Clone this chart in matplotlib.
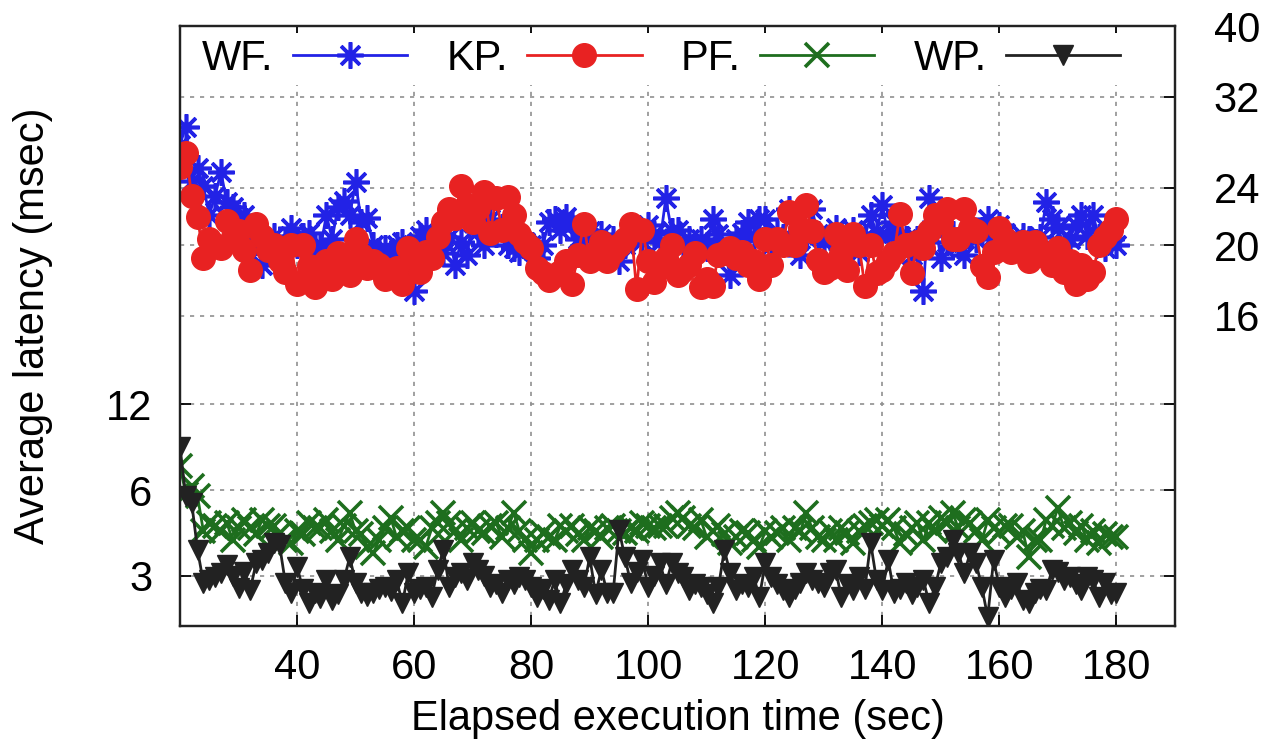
import numpy as np
import matplotlib.pyplot as plt
from matplotlib.ticker import FixedLocator, FixedFormatter, NullLocator

plt.rcParams['font.family'] = ['Liberation Sans', 'DejaVu Sans']

# elapsed time, one sample per second
t = np.arange(20, 181)

# right axis (msec)
wf = [27.5, 29.1, 24.5, 25.5, 24.1, 22.0, 23.4, 25.2, 22.9, 22.6,
      21.8, 22.0, 21.0, 20.2, 18.8, 19.5, 20.6, 19.8, 20.2, 21.1,
      20.0, 20.6, 20.8, 19.8, 19.8, 22.0, 20.4, 22.6, 23.0, 22.0,
      24.4, 21.5, 21.8, 20.0, 19.5, 19.8, 19.2, 20.0, 20.2, 19.0,
      17.3, 20.6, 21.0, 20.5, 20.4, 19.5, 20.5, 18.8, 20.2, 19.4,
      21.5, 20.9, 20.0, 21.7, 20.7, 21.2, 20.0, 19.8, 19.6, 20.2,
      20.0, 19.2, 20.0, 21.5, 21.7, 21.0, 21.9, 21.4, 20.4, 19.5,
      20.9, 20.3, 20.7, 19.8, 20.4, 19.0, 20.0, 20.6, 20.9, 20.3,
      21.3, 20.7, 20.2, 23.2, 20.9, 21.0, 20.0, 20.4, 19.8, 20.4,
      19.8, 21.7, 20.7, 19.6, 18.2, 20.4, 20.8, 21.5, 20.5, 21.7,
      21.7, 20.0, 20.8, 20.5, 22.4, 20.0, 19.4, 20.5, 22.4, 20.7,
      20.2, 20.5, 21.1, 20.6, 20.4, 21.0, 19.6, 20.5, 22.0, 20.8,
      22.7, 20.6, 21.5, 20.6, 20.4, 19.4, 20.4, 17.3, 23.2, 21.5,
      19.2, 20.2, 20.7, 20.0, 19.4, 20.7, 20.4, 21.0, 21.7, 20.6,
      21.3, 20.8, 20.2, 20.0, 20.6, 20.4, 20.2, 20.5, 22.9, 21.7,
      21.1, 20.0, 20.4, 21.3, 22.0, 20.6, 22.0, 20.5, 19.8, 20.4,
      20.0]

kp = [25.6, 26.8, 23.4, 21.9, 19.2, 20.4, 20.0, 19.8, 21.6, 20.5,
      20.9, 19.7, 18.5, 21.4, 20.6, 19.7, 20.0, 19.0, 18.4, 20.0,
      17.7, 20.0, 18.7, 17.5, 18.7, 19.0, 18.0, 19.5, 19.0, 18.2,
      20.4, 19.4, 18.6, 19.0, 18.8, 18.0, 18.5, 18.6, 17.7, 19.8,
      19.2, 18.4, 19.6, 19.2, 20.5, 21.5, 22.4, 21.8, 24.1, 22.7,
      21.5, 22.5, 23.7, 20.8, 23.2, 21.0, 23.3, 22.0, 20.7, 20.2,
      19.8, 18.6, 18.3, 17.9, 18.2, 18.4, 19.0, 17.7, 19.4, 21.4,
      19.0, 19.5, 20.2, 19.0, 19.6, 20.0, 20.4, 21.4, 17.4, 21.0,
      19.0, 17.8, 18.6, 19.2, 20.0, 18.2, 18.5, 18.8, 19.5, 17.5,
      18.0, 17.6, 19.4, 19.5, 19.8, 19.2, 19.6, 18.8, 19.0, 18.0,
      20.4, 18.8, 20.4, 20.0, 22.2, 20.0, 21.1, 22.7, 20.9, 19.1,
      18.4, 18.6, 20.7, 19.5, 18.5, 20.7, 20.0, 17.6, 20.0, 18.3,
      18.5, 19.0, 19.5, 22.1, 20.0, 18.3, 20.2, 19.8, 20.9, 22.0,
      21.5, 22.4, 20.4, 20.4, 22.4, 21.1, 20.9, 18.7, 18.1, 19.6,
      21.1, 20.4, 19.6, 19.8, 20.2, 19.0, 20.2, 19.4, 19.4, 18.8,
      19.8, 18.4, 19.0, 17.7, 18.8, 18.0, 18.4, 20.0, 20.5, 21.0,
      21.7]

# left axis (msec)
pf = [7.3, 5.8, 6.2, 5.7, 4.3, 4.6, 4.5, 4.3, 4.6, 4.0,
      4.4, 4.7, 4.4, 4.2, 4.7, 4.5, 4.5, 4.25, 4.0, 3.9,
      4.3, 4.2, 4.6, 4.4, 4.4, 4.7, 4.3, 4.0, 4.5, 5.0,
      4.3, 4.2, 3.8, 3.6, 4.0, 4.4, 4.8, 4.1, 4.3, 4.4,
      4.0, 4.0, 3.8, 4.4, 4.6, 5.0, 4.6, 4.3, 4.0, 4.4,
      4.6, 4.3, 4.25, 4.5, 4.6, 4.1, 4.4, 5.0, 4.3, 4.0,
      3.6, 4.0, 4.25, 4.1, 4.0, 4.5, 4.3, 4.5, 4.2, 4.0,
      4.4, 4.3, 4.1, 4.4, 4.5, 4.3, 4.25, 4.4, 4.3, 4.6,
      4.5, 4.4, 4.5, 4.5, 4.8, 5.0, 4.8, 4.5, 4.4, 4.7,
      4.1, 4.3, 4.5, 4.2, 3.9, 4.1, 4.3, 4.25, 4.0, 3.8,
      4.3, 4.1, 4.25, 4.4, 4.0, 4.4, 4.3, 5.0, 4.4, 4.1,
      4.0, 4.3, 4.0, 4.4, 4.25, 3.9, 4.3, 4.5, 4.6, 4.7,
      4.5, 4.7, 4.4, 3.9, 4.2, 4.4, 4.6, 4.0, 4.6, 4.3,
      4.8, 4.6, 5.0, 4.4, 4.7, 4.6, 4.3, 4.0, 4.7, 4.4,
      4.25, 4.5, 4.5, 4.1, 4.3, 3.5, 4.0, 4.0, 4.7, 4.5,
      5.2, 4.4, 4.6, 4.25, 4.5, 4.0, 4.3, 3.9, 4.2, 4.1,
      4.1]

wp = [8.5, 5.7, 5.4, 3.7, 2.84, 2.9, 2.98, 3.07, 3.28, 3.0,
      2.72, 3.1, 2.68, 3.33, 3.41, 3.6, 3.92, 3.86, 2.84, 2.61,
      3.22, 2.7, 2.41, 2.61, 2.5, 2.9, 2.47, 2.6, 2.9, 3.49,
      2.84, 2.61, 2.55, 2.61, 2.7, 2.74, 2.65, 2.9, 2.41, 3.07,
      2.61, 2.7, 2.74, 2.53, 3.15, 3.7, 2.74, 2.98, 3.07, 2.9,
      3.33, 3.15, 3.0, 2.74, 2.8, 2.61, 2.9, 2.8, 2.98, 2.9,
      2.74, 2.53, 2.7, 2.47, 2.9, 2.41, 2.8, 3.15, 2.9, 2.74,
      3.49, 2.6, 3.15, 2.61, 2.61, 4.36, 3.49, 2.84, 3.1, 3.41,
      2.74, 3.0, 3.33, 2.8, 3.33, 3.07, 2.98, 2.68, 2.8, 2.74,
      2.6, 2.41, 2.74, 3.7, 3.07, 2.68, 2.8, 2.74, 2.98, 2.53,
      3.33, 2.98, 2.8, 2.68, 2.53, 2.7, 2.84, 3.07, 2.9, 2.84,
      2.75, 3.07, 3.15, 2.53, 2.8, 2.68, 2.98, 2.7, 3.92, 2.9,
      2.68, 3.41, 2.61, 2.7, 2.84, 2.6, 2.74, 2.9, 2.41, 2.74,
      3.33, 3.49, 4.02, 3.61, 3.07, 3.61, 3.33, 2.74, 2.15, 3.41,
      2.74, 2.53, 2.7, 2.84, 2.47, 2.41, 2.61, 2.7, 2.68, 3.15,
      3.1, 2.9, 2.98, 2.8, 2.68, 2.98, 2.9, 2.53, 2.84, 2.6,
      2.61]

xticks = [40, 60, 80, 100, 120, 140, 160, 180]
left_ticks = [3, 6, 12]
right_ticks = [16, 20, 24, 32, 40]

FS = 30
gridkw = dict(color='#909090', linestyle=(0, (2.5, 3.5)), linewidth=1.2)

fig = plt.figure(figsize=(12.67, 7.55), dpi=100)
ax = fig.add_axes([180 / 1267, 1 - 626 / 755, 995 / 1267, 600 / 755])
ax2 = ax.twinx()

l3, = ax.plot(t, pf, color='#1e6e1e', marker='x', ms=17, mew=2.6, lw=2.0, label='PF.')
l4, = ax.plot(t, wp, color='#222222', marker='v', ms=15, lw=2.0, label='WP.')
l1, = ax2.plot(t, wf, color='#2222e6', marker=(8, 2, 0), ms=19, mew=2.6, lw=2.0, label='WF.')
l2, = ax2.plot(t, kp, color='#e82222', marker='o', ms=17, lw=2.0, label='KP.')

ax.set_xlim(20, 190)
ax.set_yscale('log')
ax2.set_yscale('log')
ax.set_ylim(2, 256)
ax2.set_ylim(6, 40)

ax.set_xticks(xticks)
ax.set_xticklabels([str(v) for v in xticks])
ax.xaxis.set_minor_locator(NullLocator())
ax.yaxis.set_major_locator(FixedLocator(left_ticks))
ax.yaxis.set_major_formatter(FixedFormatter([str(v) for v in left_ticks]))
ax.yaxis.set_minor_locator(NullLocator())
ax2.yaxis.set_major_locator(FixedLocator(right_ticks))
ax2.yaxis.set_major_formatter(FixedFormatter([str(v) for v in right_ticks]))
ax2.yaxis.set_minor_locator(NullLocator())

ax.tick_params(axis='x', direction='in', length=8, width=1.3, top=True,
               labelsize=FS, pad=16)
ax.tick_params(axis='y', direction='in', length=8, width=1.3, right=True,
               labelright=False, labelsize=FS, pad=20)
ax2.tick_params(axis='y', direction='in', length=8, width=1.3,
                labelsize=FS, pad=28)

ax.grid(True, **gridkw)
ax2.grid(True, axis='y', **gridkw)
ax.set_axisbelow(True)
ax2.set_axisbelow(True)

for a in (ax, ax2):
    for s in a.spines.values():
        s.set_linewidth(1.6)
        s.set_color('#222222')

ax.set_xlabel('Elapsed execution time (sec)', fontsize=FS, labelpad=8)
ax.set_ylabel('Average latency (msec)', fontsize=FS, labelpad=38)

leg = ax2.legend(handles=[l1, l2, l3, l4], ncol=4, loc='center',
                 bbox_to_anchor=(0.522, 0.922), bbox_transform=fig.transFigure,
                 fontsize=FS, markerfirst=False, numpoints=1,
                 handlelength=2.75, handletextpad=0.45, columnspacing=0.95,
                 borderpad=0.15, frameon=True, fancybox=False)
leg.get_frame().set_facecolor('white')
leg.get_frame().set_edgecolor('none')
leg.get_frame().set_alpha(1.0)

fig.savefig('out.png', dpi=100)
